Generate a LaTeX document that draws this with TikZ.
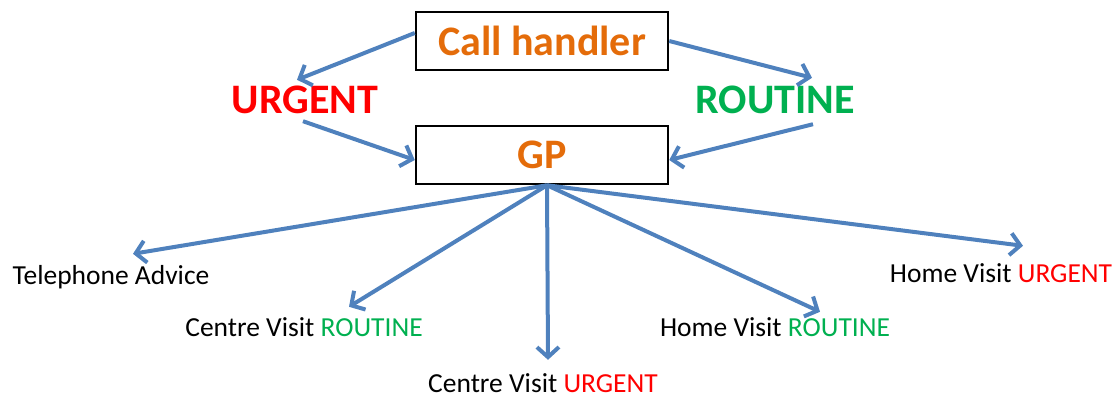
\documentclass[tikz,border=0pt]{standalone}
\usepackage{fontspec}
\setmainfont{Carlito}
\usetikzlibrary{arrows.meta, positioning}
\definecolor{callorange}{HTML}{E46C0A}
\definecolor{arrowblue}{HTML}{4F81BD}
\definecolor{urgred}{HTML}{FF0000}
\definecolor{routgreen}{HTML}{00B050}

\tikzset{
  box/.style={draw=black, line width=2.5pt, minimum width=252pt, minimum height=58pt,
    inner sep=0pt, text=callorange, font=\fontsize{42}{50}\selectfont\bfseries},
  biglabel/.style={inner sep=0pt, text height=27pt, text depth=0pt,
    font=\fontsize{42}{50}\selectfont\bfseries},
  leaf/.style={inner sep=0pt, text height=19pt, text depth=6pt,
    font=\fontsize{27.5}{32}\selectfont},
  flow/.style={arrowblue, line width=4pt,
    -{Straight Barb[length=10pt, width=22pt]}}
}

\begin{document}
\begin{tikzpicture}[x=1pt, y=-1pt]
        \useasboundingbox (0,0) rectangle (1118,397);
        % Boxes
        \node[box] (ch) at (542,41) {Call handler};
        \node[box] (gp) at (542,155) {GP};
        % Priority labels
        \node[biglabel, text=urgred, anchor=base] (ur) at (305,113) {URGENT};
        \node[biglabel, text=routgreen, anchor=base] (rt) at (775,113) {ROUTINE};
        % Outcomes
        \node[leaf, anchor=base] (ta) at (111,284) {Telephone Advice};
        \node[leaf, anchor=base] (cvr) at (304,336) {Centre Visit \textcolor{routgreen}{ROUTINE}};
        \node[leaf, anchor=base] (cvu) at (543,392) {Centre Visit \textcolor{urgred}{URGENT}};
        \node[leaf, anchor=base] (hvr) at (775,336) {Home Visit \textcolor{routgreen}{ROUTINE}};
        \node[leaf, anchor=base] (hvu) at (1001,282) {Home Visit \textcolor{urgred}{URGENT}};
        % Call handler to GP
        \draw[flow] ([yshift=8pt]ch.west) -- ([shift={(-8pt,6pt)}]ur.north);
        \draw[flow] (ch.east) -- ([shift={(37pt,8pt)}]rt.north);
        \draw[flow] ([shift={(-2pt,-8pt)}]ur.south) -- ([yshift=-5pt]gp.west);
        \draw[flow] ([shift={(38pt,-11pt)}]rt.south) -- ([yshift=-5pt]gp.east);
        % GP to outcomes
        \draw[flow] ([xshift=5pt]gp.south) -- ([shift={(22pt,11pt)}]ta.north);
        \draw[flow] ([xshift=5pt]gp.south) -- ([shift={(45pt,10pt)}]cvr.north);
        \draw[flow] ([xshift=5pt]gp.south) -- ([shift={(5pt,13pt)}]cvu.north);
        \draw[flow] ([xshift=5pt]gp.south) -- ([shift={(45pt,5pt)}]hvr.north);
        \draw[flow] ([xshift=5pt]gp.south) -- ([shift={(22pt,17pt)}]hvu.north);
      \end{tikzpicture}
\end{document}
